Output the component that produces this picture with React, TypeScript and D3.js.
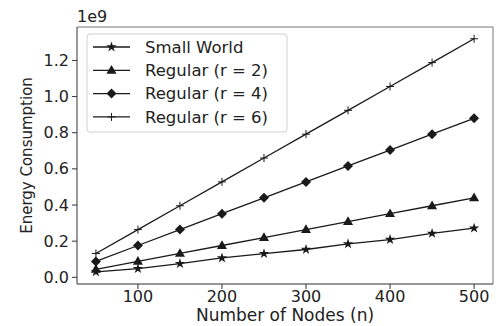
import React from "react";
import * as d3 from "d3";

const nodes = [50, 100, 150, 200, 250, 300, 350, 400, 450, 500];
const smallWorld = [0.030, 0.048, 0.076, 0.107, 0.131, 0.154, 0.185, 0.209, 0.243, 0.272];
const regular2 = [0.044, 0.088, 0.132, 0.176, 0.220, 0.264, 0.308, 0.352, 0.396, 0.440];
const regular4 = [0.088, 0.176, 0.264, 0.352, 0.440, 0.528, 0.616, 0.704, 0.792, 0.880];
const regular6 = [0.132, 0.264, 0.396, 0.528, 0.660, 0.792, 0.924, 1.056, 1.188, 1.320];
const seriesNames = ["Small World", "Regular (r = 2)", "Regular (r = 4)", "Regular (r = 6)"];
const seriesMarkers = ["star", "triangle", "diamond", "plus"];
const xTicks = [100, 200, 300, 400, 500];
const yTicks = [0, 0.2, 0.4, 0.6, 0.8, 1.0, 1.2];

const W = 498, H = 326;
const M = { left: 77, right: 493, top: 27, bottom: 284 };
const FONT = "DejaVu Sans, sans-serif";
const INK = "#1a1a1a";

function Marker({ type, x, y }: { type: string; x: number; y: number }) {
  if (type === "star") {
    return <path d={d3.symbol(d3.symbolStar, 34)()!} transform={`translate(${x},${y})`} fill={INK} />;
  }
  if (type === "triangle") {
    return <path d={d3.symbol(d3.symbolTriangle, 44)()!} transform={`translate(${x},${y + 0.5})`} fill={INK} />;
  }
  if (type === "diamond") {
    const r = 5;
    return <path d={`M${x},${y - r}L${x + r},${y}L${x},${y + r}L${x - r},${y}Z`} fill={INK} />;
  }
  const r = 4;
  return <path d={`M${x - r},${y}H${x + r}M${x},${y - r}V${y + r}`} stroke={INK} strokeWidth={1} />;
}

export default function App() {
  const x = d3.scaleLinear().domain([27.5, 522.5]).range([M.left, M.right]);
  const y = d3.scaleLinear().domain([-0.037, 1.385]).range([M.bottom, M.top]);
  const allSeries = [smallWorld, regular2, regular4, regular6];
  const line = d3.line<number>().x((_, i) => x(nodes[i])).y((d) => y(d));

  const legX = 87, legY = 34, legW = 200, legH = 98;
  const rowY = (i: number) => legY + 13 + i * 23.3;

  return (
    <svg width={W} height={H} style={{ position: "fixed", left: 0, top: 0 }} fontFamily={FONT}>
      <rect x={0} y={0} width={W} height={H} fill="#fff" />
      {allSeries.map((s, si) => (
        <g key={si}>
          <path d={line(s)!} fill="none" stroke={INK} strokeWidth={1.3} />
          {s.map((v, i) => (
            <Marker key={i} type={seriesMarkers[si]} x={x(nodes[i])} y={y(v)} />
          ))}
        </g>
      ))}
      {/* spines */}
      <line x1={M.left} x2={M.right} y1={M.top} y2={M.top} stroke="#777" strokeWidth={1} />
      <line x1={M.right} x2={M.right} y1={M.top} y2={M.bottom} stroke="#777" strokeWidth={1} />
      <line x1={M.left} x2={M.left} y1={M.top} y2={M.bottom} stroke="#333" strokeWidth={1} />
      <line x1={M.left} x2={M.right} y1={M.bottom} y2={M.bottom} stroke="#333" strokeWidth={1} />
      {/* x ticks */}
      {xTicks.map((t) => (
        <g key={t}>
          <line x1={x(t)} x2={x(t)} y1={M.bottom} y2={M.bottom + 5} stroke="#333" />
          <text x={x(t)} y={M.bottom + 18} textAnchor="middle" fontSize={16} fill="#222">{t}</text>
        </g>
      ))}
      {/* y ticks */}
      {yTicks.map((t) => (
        <g key={t}>
          <line x1={M.left - 5} x2={M.left} y1={y(t)} y2={y(t)} stroke="#333" />
          <text x={M.left - 8} y={y(t)} dy="0.35em" textAnchor="end" fontSize={16} fill="#222">{t.toFixed(1)}</text>
        </g>
      ))}
      <text x={M.left} y={22} fontSize={16} fill="#222">1e9</text>
      <text x={(M.left + M.right) / 2} y={321} textAnchor="middle" fontSize={17} fill="#222">Number of Nodes (n)</text>
      <text transform={`translate(32,${(M.top + M.bottom) / 2}) rotate(-90)`} textAnchor="middle" fontSize={15} fill="#222">Energy Consumption</text>
      {/* legend */}
      <rect x={legX} y={legY} width={legW} height={legH} rx={3} fill="#fff" fillOpacity={0.85} stroke="#d0d0d0" />
      {seriesNames.map((n, i) => (
        <g key={n}>
          <line x1={93} x2={130} y1={rowY(i)} y2={rowY(i)} stroke={INK} strokeWidth={1.3} />
          <Marker type={seriesMarkers[i]} x={111.5} y={rowY(i)} />
          <text x={145} y={rowY(i)} dy="0.35em" fontSize={16.5} fill="#222">{n}</text>
        </g>
      ))}
    </svg>
  );
}
